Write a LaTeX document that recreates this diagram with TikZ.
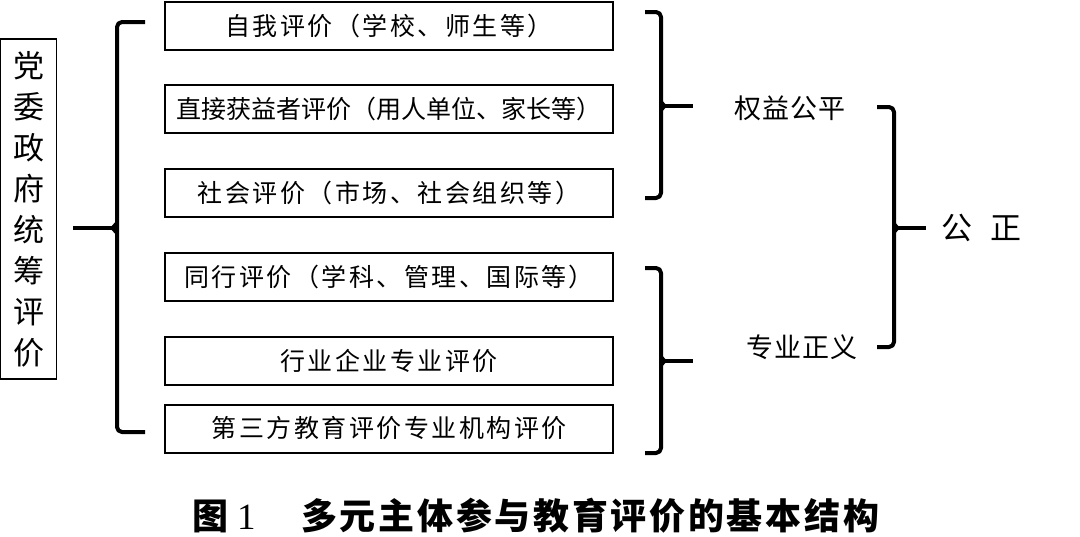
\documentclass[tikz,border=0pt]{standalone}
\usepackage{fontspec}
\setmainfont{Noto Sans CJK SC}
\newfontfamily\boxf[LetterSpace=10]{Noto Sans CJK SC}
\newfontfamily\boxft{Noto Sans CJK SC}
\newfontfamily\labf[LetterSpace=4]{Noto Sans CJK SC}
\newfontfamily\capf[LetterSpace=7.5]{Noto Sans CJK SC}
\newfontfamily\numf{Liberation Serif}
\begin{document}
\begin{tikzpicture}[x=1pt,y=-1pt,
  itembox/.style={draw, line width=2pt, minimum width=448pt, minimum height=48pt, inner sep=0pt,
    font=\boxf\fontsize{25}{29}\selectfont},
  leftbox/.style={draw, line width=1.6pt, minimum width=56pt, minimum height=340pt, inner sep=0pt,
    align=center, font=\fontsize{31}{41}\selectfont},
  lab/.style={inner sep=0pt, font=\labf\fontsize{27}{32}\selectfont},
  captxt/.style={anchor=west, inner sep=0pt},
  brk/.style={line width=4pt, rounded corners=5pt, line join=round},
  stub/.style={line width=4pt}
]
\useasboundingbox (0,0) rectangle (1080,536);

% left vertical box
\node[leftbox] (L) at (28.5,209) {党\\委\\政\\府\\统\\筹\\评\\价};

% item boxes
\node[itembox] (b1) at (389,25.5) {自我评价（学校、师生等）};
\node[itembox, font=\boxft\fontsize{25}{29}\selectfont] (b2) at (389,109) {直接获益者评价（用人单位、家长等）};
\node[itembox] (b3) at (389,192.5) {社会评价（市场、社会组织等）};
\node[itembox] (b4) at (389,276.5) {同行评价（学科、管理、国际等）};
\node[itembox] (b5) at (389,360.5) {行业企业专业评价};
\node[itembox] (b6) at (389,428.5) {第三方教育评价专业机构评价};

% labels
\node[lab] (q) at (790,108) {权益公平};
\node[lab] (z) at (802,347) {专业正义};
\node[inner sep=0pt, font=\fontsize{31}{36}\selectfont] (g) at (981.5,228) {公\hspace{19pt}正};

% left bracket
\coordinate (lbT) at (145,22);
\coordinate (lbB) at (145,432);
\coordinate (lbM) at (117,228);
\coordinate (lbS) at (73,228);
\draw[brk] (lbT) -- (117,22) -- (117,432) -- (lbB);
\fill (117,220) -- (110,228) -- (117,236) -- cycle;
\draw[stub] (lbS) -- (lbM);

% right bracket 1
\coordinate (r1T) at (645,12);
\coordinate (r1B) at (645,198);
\coordinate (r1M) at (661,106);
\coordinate (r1S) at (693,106);
\draw[brk] (r1T) -- (661,12) -- (661,198) -- (r1B);
\fill (661,99) -- (667,106) -- (661,113) -- cycle;
\draw[stub] (r1M) -- (r1S);

% right bracket 2
\coordinate (r2T) at (645,268);
\coordinate (r2B) at (645,453);
\coordinate (r2M) at (661,361);
\coordinate (r2S) at (693,361);
\draw[brk] (r2T) -- (661,268) -- (661,453) -- (r2B);
\fill (661,354) -- (667,361) -- (661,368) -- cycle;
\draw[stub] (r2M) -- (r2S);

% big bracket
\coordinate (r3T) at (877,107);
\coordinate (r3B) at (877,347);
\coordinate (r3M) at (894,228);
\coordinate (r3S) at (926,228);
\draw[brk] (r3T) -- (894,107) -- (894,347) -- (r3B);
\fill (894,221) -- (900,228) -- (894,235) -- cycle;
\draw[stub] (r3M) -- (r3S);

% caption
\node[captxt, font=\capf\bfseries\fontsize{36}{42}\selectfont] (c1) at (192,516) {图};
\node[captxt, font=\numf\fontsize{37}{40}\selectfont] (c2) at (237,517) {1};
\node[captxt, font=\capf\bfseries\fontsize{36}{42}\selectfont] (c3) at (301,516) {多元主体参与教育评价的基本结构};
\end{tikzpicture}
\end{document}
